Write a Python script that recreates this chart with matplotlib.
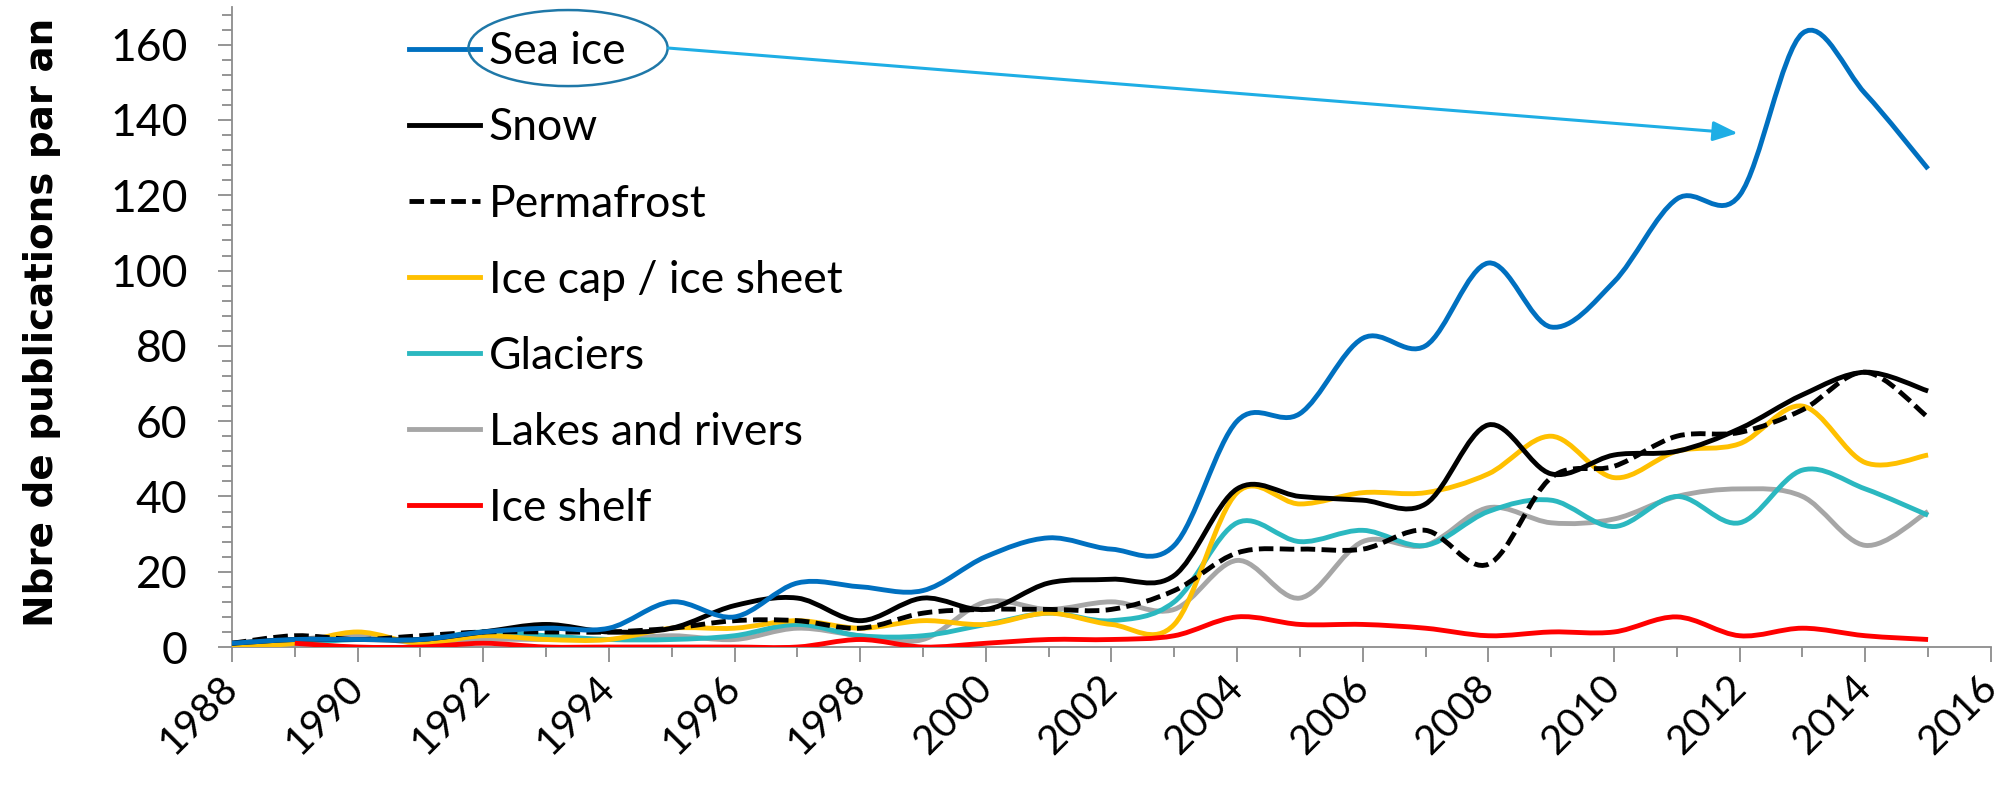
import numpy as np
import matplotlib
matplotlib.use('Agg')
import matplotlib.pyplot as plt
from matplotlib.path import Path
from matplotlib.patches import PathPatch, Ellipse
from matplotlib.lines import Line2D
from matplotlib.ticker import MultipleLocator

# publications per year
years = list(range(1988, 2016))
sea_ice = [1, 2, 2, 2, 4, 5, 5, 12, 8, 17, 16, 15, 24, 29, 26, 27, 60, 62, 82, 80, 102, 85, 97, 119, 120, 163, 147, 127]
snow = [1, 2, 2, 2, 4, 6, 4, 5, 11, 13, 7, 13, 10, 17, 18, 19, 42, 40, 39, 38, 59, 46, 51, 52, 58, 67, 73, 68]
permafrost = [1, 3, 2, 3, 4, 4, 4, 5, 7, 7, 5, 9, 10, 10, 10, 15, 25, 26, 26, 31, 22, 45, 48, 56, 57, 63, 73, 61]
ice_cap = [0, 1, 4, 1, 3, 2, 2, 5, 5, 7, 5, 7, 6, 9, 6, 6, 41, 38, 41, 41, 46, 56, 45, 52, 54, 64, 49, 51]
glaciers = [0, 1, 2, 2, 4, 3, 2, 2, 3, 6, 3, 3, 6, 9, 7, 12, 33, 28, 31, 27, 36, 39, 32, 40, 33, 47, 42, 35]
lakes = [1, 2, 3, 1, 2, 2, 2, 3, 2, 5, 3, 2, 12, 10, 12, 10, 23, 13, 28, 27, 37, 33, 34, 40, 42, 40, 27, 36]
ice_shelf = [np.nan, 1, 0, 0, 1, 0, 0, 0, 0, 0, 2, 0, 1, 2, 2, 3, 8, 6, 6, 5, 3, 4, 4, 8, 3, 5, 3, 2]

labels = ['Sea ice', 'Snow', 'Permafrost', 'Ice cap / ice sheet', 'Glaciers',
          'Lakes and rivers', 'Ice shelf']
series = [sea_ice, snow, permafrost, ice_cap, glaciers, lakes, ice_shelf]
colors = ['#0070C0', '#000000', '#000000', '#FFC000', '#2BB8C0', '#A6A6A6', '#FF0000']
styles = ['-', '-', (0, (3.0, 1.3)), '-', '-', '-', '-']
zorders = [9, 8, 7, 6, 5, 4, 10]


def smooth_path(xs, ys):
    # excel-like smoothed line: cubic bezier through every point
    pts = np.array([(x, y) for x, y in zip(xs, ys) if not np.isnan(y)], float)
    n = len(pts)
    verts = [pts[0]]
    codes = [Path.MOVETO]
    for i in range(n - 1):
        p0 = pts[i - 1] if i > 0 else pts[i]
        p1 = pts[i]
        p2 = pts[i + 1]
        p3 = pts[i + 2] if i + 2 < n else pts[i + 1]
        verts += [p1 + (p2 - p0) / 6.0, p2 - (p3 - p1) / 6.0, p2]
        codes += [Path.CURVE4] * 3
    return Path(verts, codes)


fig = plt.figure(figsize=(20.1, 7.99), dpi=100)
ax = fig.add_axes([0.1154, 0.1902, 0.8751, 0.801])

lw = 3.5
for s, c, ls, z in zip(series, colors, styles, zorders):
    patch = PathPatch(smooth_path(years, np.array(s, float)), fill=False,
                      edgecolor=c, lw=lw, linestyle=ls, zorder=z,
                      capstyle='butt', joinstyle='round')
    ax.add_patch(patch)

ax.set_xlim(1988, 2016)
ax.set_ylim(0, 170)

axis_grey = '#8C8C8C'
for side in ['top', 'right']:
    ax.spines[side].set_visible(False)
for side in ['left', 'bottom']:
    ax.spines[side].set_color(axis_grey)
    ax.spines[side].set_linewidth(1.3)

ax.xaxis.set_major_locator(MultipleLocator(2))
ax.xaxis.set_minor_locator(MultipleLocator(1))
ax.yaxis.set_major_locator(MultipleLocator(20))
ax.yaxis.set_minor_locator(MultipleLocator(4))
ax.tick_params(axis='both', which='both', color=axis_grey, width=1.3, direction='out')
ax.tick_params(axis='x', which='major', length=11, pad=14)
ax.tick_params(axis='x', which='minor', length=7)
ax.tick_params(axis='y', which='major', length=10, pad=22)
ax.tick_params(axis='y', which='minor', length=7)

tick_font = 'Lato'
for lab in ax.get_yticklabels():
    lab.set_fontfamily(tick_font)
    lab.set_fontsize(32)
for lab in ax.get_xticklabels():
    lab.set_fontfamily(tick_font)
    lab.set_fontsize(29)
    lab.set_rotation(45)
    lab.set_ha('right')
    lab.set_va('center')
    lab.set_rotation_mode('anchor')

fig.text(42 / 2010, 1 - 322 / 799, 'Nbre de publications par an', rotation=90,
         ha='center', va='center', fontsize=28, fontweight='bold',
         family='DejaVu Sans')

handles = [Line2D([], [], color=c, lw=lw, linestyle=ls) for c, ls in zip(colors, styles)]
ax.legend(handles, labels, loc='upper left', bbox_to_anchor=(0.1006, 0.962),
          frameon=False, prop={'family': tick_font, 'size': 32},
          handlelength=1.6, handletextpad=0.2, labelspacing=0.79,
          borderpad=0, borderaxespad=0)

# ellipse around "Sea ice" and arrow to the 2012-2013 rise
ax.add_patch(Ellipse((1993.35, 159.1), 3.17, 20.2, fill=False,
                     edgecolor='#1F78A8', lw=1.8, zorder=12))
ax.annotate('', xy=(2011.97, 136.5), xytext=(1994.95, 159.1),
            arrowprops=dict(arrowstyle='-|>,head_length=1.5,head_width=0.6',
                            color='#1FAEE5', lw=2.2, shrinkA=0, shrinkB=0),
            zorder=12)

fig.savefig('out.png', dpi=100)
